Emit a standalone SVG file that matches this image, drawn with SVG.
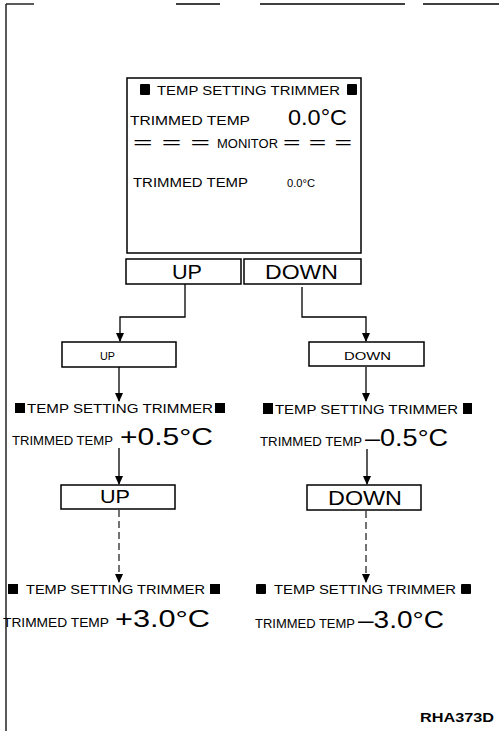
<svg xmlns="http://www.w3.org/2000/svg" width="499" height="731" viewBox="0 0 499 731">
<style>
text{font-family:"Liberation Sans",Arial,sans-serif;fill:#000}
.box{fill:#fff;stroke:#000;stroke-width:1.5}
.ln{fill:none;stroke:#000;stroke-width:1.3}
.dash{fill:none;stroke:#000;stroke-width:1.1;stroke-dasharray:7 4}
.sq{fill:#000}
.s{font-size:13px}
.b{font-size:23px}
</style>
<defs>
<marker id="ah" markerUnits="userSpaceOnUse" markerWidth="8" markerHeight="9" refX="4" refY="9" orient="auto-start-reverse" viewBox="0 0 8 9">
<path d="M0,0 L8,0 L4,9 Z" fill="#000" transform="rotate(-90 4 4.5) translate(0 0)"/>
</marker>
<marker id="arr" markerUnits="userSpaceOnUse" markerWidth="9" markerHeight="8" refX="8" refY="4" orient="auto" viewBox="0 0 9 8">
<path d="M0,0 L9,4 L0,8 Z" fill="#000"/>
</marker>
</defs>
<g id="frame">
<line x1="6" y1="4" x2="6" y2="731" class="ln" stroke-width="1.6"/>
<line x1="6" y1="4" x2="34" y2="4" class="ln" stroke-width="0.8"/>
<line x1="176" y1="4" x2="220" y2="4" class="ln" stroke-width="1"/>
<line x1="260" y1="4" x2="405" y2="4" class="ln" stroke-width="1"/>
<line x1="423" y1="4" x2="499" y2="4" class="ln" stroke-width="1"/>
</g>
<g id="connectors">
<polyline class="ln" points="185,284 185,317 120,317 120,341" marker-end="url(#arr)"/>
<polyline class="ln" points="302,287 302,317 366,317 366,341" marker-end="url(#arr)"/>
<line class="ln" x1="119" y1="367" x2="119" y2="401" marker-end="url(#arr)"/>
<line class="ln" x1="366" y1="367" x2="366" y2="401" marker-end="url(#arr)"/>
<line class="ln" x1="119" y1="448" x2="119" y2="484" marker-end="url(#arr)"/>
<line class="ln" x1="367" y1="449" x2="367" y2="484" marker-end="url(#arr)"/>
<line class="dash" x1="119" y1="510" x2="119" y2="582" marker-end="url(#arr)"/>
<line class="dash" x1="366" y1="511" x2="366" y2="582" marker-end="url(#arr)"/>
</g>
<g id="display">
<rect class="box" x="127" y="78" width="234" height="175"/>
<rect class="sq" x="140" y="84" width="10" height="11" rx="1"/>
<rect class="sq" x="347" y="84" width="10" height="11" rx="1"/>
<text x="157" y="95" font-size="12.5" textLength="183" lengthAdjust="spacingAndGlyphs">TEMP SETTING TRIMMER</text>
<text x="130" y="125" font-size="13.5" textLength="120" lengthAdjust="spacingAndGlyphs">TRIMMED TEMP</text>
<text x="288" y="125" font-size="22" textLength="59" lengthAdjust="spacingAndGlyphs">0.0°C</text>
<text x="133" y="148" font-size="14" textLength="77" lengthAdjust="spacingAndGlyphs">= = =</text>
<text x="217" y="148" font-size="12.5" textLength="61" lengthAdjust="spacingAndGlyphs">MONITOR</text>
<text x="283" y="148" font-size="14" textLength="69" lengthAdjust="spacingAndGlyphs">= = =</text>
<text x="133" y="187" font-size="12.5" textLength="115" lengthAdjust="spacingAndGlyphs">TRIMMED TEMP</text>
<text x="287" y="187" font-size="11.5" textLength="28" lengthAdjust="spacingAndGlyphs">0.0°C</text>
</g>
<g id="btn-up">
<rect class="box" x="126" y="259" width="115" height="25"/>
<text x="172" y="279" font-size="20" textLength="30" lengthAdjust="spacingAndGlyphs">UP</text>
</g>
<g id="btn-down">
<rect class="box" x="244" y="259" width="117" height="25"/>
<text x="265" y="279" font-size="20" textLength="73" lengthAdjust="spacingAndGlyphs">DOWN</text>
</g>
<g id="up1">
<rect class="box" x="62" y="342" width="114" height="25"/>
<text x="100" y="360" font-size="11" textLength="15" lengthAdjust="spacingAndGlyphs">UP</text>
</g>
<g id="down1">
<rect class="box" x="309" y="342" width="115" height="24"/>
<text x="344" y="360" font-size="11" textLength="47" lengthAdjust="spacingAndGlyphs">DOWN</text>
</g>
<g id="left-state1">
<rect class="sq" x="15" y="403" width="10" height="10"/>
<text x="27" y="413" class="s" textLength="186" lengthAdjust="spacingAndGlyphs">TEMP SETTING TRIMMER</text>
<rect class="sq" x="215" y="403" width="10" height="10"/>
<text x="12" y="445" class="s" textLength="101" lengthAdjust="spacingAndGlyphs">TRIMMED TEMP</text>
<text x="120" y="445" class="b" textLength="93" lengthAdjust="spacingAndGlyphs">+0.5°C</text>
</g>
<g id="right-state1">
<rect class="sq" x="263" y="403" width="10" height="11"/>
<text x="275" y="414" class="s" textLength="183" lengthAdjust="spacingAndGlyphs">TEMP SETTING TRIMMER</text>
<rect class="sq" x="463" y="403" width="9" height="11"/>
<text x="260" y="446" class="s" textLength="102" lengthAdjust="spacingAndGlyphs">TRIMMED TEMP</text>
<text x="365" y="446" class="b" textLength="83" lengthAdjust="spacingAndGlyphs">–0.5°C</text>
</g>
<g id="up2">
<rect class="box" x="61" y="485" width="114" height="24"/>
<text x="100" y="503" font-size="19" textLength="30" lengthAdjust="spacingAndGlyphs">UP</text>
</g>
<g id="down2">
<rect class="box" x="307" y="485" width="114" height="25"/>
<text x="328" y="505" font-size="21" textLength="74" lengthAdjust="spacingAndGlyphs">DOWN</text>
</g>
<g id="left-state2">
<rect class="sq" x="8" y="584" width="10" height="10"/>
<text x="26" y="594" class="s" textLength="179" lengthAdjust="spacingAndGlyphs">TEMP SETTING TRIMMER</text>
<rect class="sq" x="210" y="584" width="10" height="10"/>
<text x="3" y="627" class="s" textLength="106" lengthAdjust="spacingAndGlyphs">TRIMMED TEMP</text>
<text x="115" y="627" class="b" textLength="95" lengthAdjust="spacingAndGlyphs">+3.0°C</text>
</g>
<g id="right-state2">
<rect class="sq" x="256" y="584" width="10" height="10" rx="1"/>
<text x="274" y="594" class="s" textLength="182" lengthAdjust="spacingAndGlyphs">TEMP SETTING TRIMMER</text>
<rect class="sq" x="461" y="584" width="10" height="10" rx="1"/>
<text x="255" y="628" class="s" textLength="100" lengthAdjust="spacingAndGlyphs">TRIMMED TEMP</text>
<text x="358" y="628" class="b" textLength="86" lengthAdjust="spacingAndGlyphs">–3.0°C</text>
</g>
<text x="420" y="722" font-size="12.5" font-weight="bold" textLength="74" lengthAdjust="spacingAndGlyphs">RHA373D</text>
</svg>
